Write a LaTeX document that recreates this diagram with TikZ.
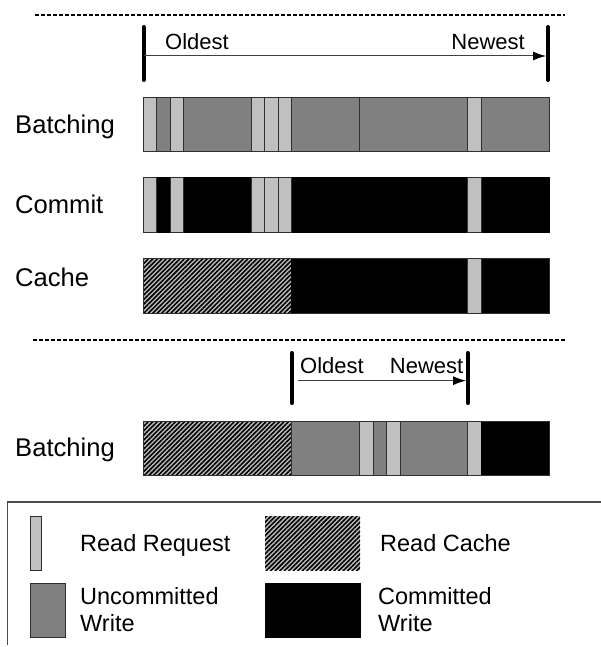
\documentclass[tikz,border=0pt]{standalone}
\usepackage{fontspec}
\setmainfont{Liberation Sans}
\usetikzlibrary{patterns.meta,arrows.meta}
\definecolor{lightg}{HTML}{C0C0C0}
\definecolor{darkg}{HTML}{808080}
\definecolor{edge}{HTML}{303030}
\begin{document}
\begin{tikzpicture}[x=1pt,y=-1pt,
  rr/.style={fill=lightg,draw=edge,line width=0.8pt},
  uw/.style={fill=darkg,draw=edge,line width=0.8pt},
  cw/.style={fill=black,draw=black,line width=0.8pt},
  rc/.style={preaction={fill=gray!50},pattern={Lines[angle=45,distance=3.2pt,line width=1.6pt]},pattern color=black},
  rowlab/.style={font=\fontsize{25.6}{30}\selectfont,anchor=base west,inner sep=0pt},
  timelab/.style={font=\fontsize{22}{26}\selectfont,inner sep=0pt},
  leglab/.style={font=\fontsize{23.5}{28}\selectfont,anchor=base west,inner sep=0pt},
  sepline/.style={dash pattern=on 4pt off 2pt,line width=1.8pt},
  tickbar/.style={line width=4pt,line cap=round},
  timearrow/.style={-{Latex[length=13pt,width=9pt,fill=black,color=black]},line width=1pt,draw=black!75},
  legframe/.style={draw=black!70,line width=1.4pt}
]
\useasboundingbox (0,0) rectangle (601,647);

% separators
\coordinate (s1a) at (35,15);
\coordinate (s1b) at (565,15);
\draw[sepline] (s1a) -- (s1b);
\coordinate (s2a) at (33,340);
\coordinate (s2b) at (565,340);
\draw[sepline] (s2a) -- (s2b);

% top time axis
\coordinate (t1a) at (143.5,27);
\coordinate (t1b) at (143.5,80);
\coordinate (t2a) at (548,27);
\coordinate (t2b) at (548,80);
\draw[tickbar] (t1a) -- (t1b);
\draw[tickbar] (t2a) -- (t2b);
\coordinate (a1s) at (143.5,56);
\coordinate (a1e) at (546,56);
\draw[timearrow] (a1s) -- (a1e);
\node[timelab,anchor=base west] (old1) at (165,49.3) {Oldest};
\node[timelab,anchor=base east] (new1) at (525,49.3) {Newest};

% labels
\node[rowlab] (lb1) at (15,133.3) {Batching};
\node[rowlab] (lb2) at (15,213.3) {Commit};
\node[rowlab] (lb3) at (15,286) {Cache};
\node[rowlab] (lb4) at (15,456.7) {Batching};

% Batching bar
\foreach \a/\b in {1/2,3/8,11/16,16/24,25/30}
  \draw[uw] ({143+\a*13.533},97) rectangle ({143+\b*13.533},151);
\foreach \a/\b in {0/1,2/3,8/9,9/10,10/11,24/25}
  \draw[rr] ({143+\a*13.533},97) rectangle ({143+\b*13.533},151);

% Commit bar
\foreach \a/\b in {1/2,3/8,11/24,25/30}
  \draw[cw] ({143+\a*13.533},177) rectangle ({143+\b*13.533},232);
\foreach \a/\b in {0/1,2/3,8/9,9/10,10/11,24/25}
  \draw[rr] ({143+\a*13.533},177) rectangle ({143+\b*13.533},232);

% Cache bar
\fill[rc] (143,258) rectangle ({143+11*13.533},313);
\draw[cw] ({143+11*13.533},258) rectangle ({143+30*13.533},313);
\draw[rr] ({143+24*13.533},258) rectangle ({143+25*13.533},313);
\draw[edge,line width=0.8pt] (143,258) rectangle ({143+30*13.533},313);

% bottom time axis
\coordinate (t3a) at (291.7,353);
\coordinate (t3b) at (291.7,403);
\coordinate (t4a) at (467.7,353);
\coordinate (t4b) at (467.7,403);
\draw[tickbar] (t3a) -- (t3b);
\draw[tickbar] (t4a) -- (t4b);
\coordinate (a2s) at (298,380.7);
\coordinate (a2e) at (466,380.7);
\draw[timearrow] (a2s) -- (a2e);
\node[timelab,anchor=base west] (old2) at (300,373.3) {Oldest};
\node[timelab,anchor=base east] (new2) at (463.5,373.3) {Newest};

% bottom Batching bar
\fill[rc] (143,421) rectangle ({143+11*13.533},475);
\foreach \a/\b in {11/16,17/18,19/24}
  \draw[uw] ({143+\a*13.533},421) rectangle ({143+\b*13.533},475);
\foreach \a/\b in {16/17,18/19,24/25}
  \draw[rr] ({143+\a*13.533},421) rectangle ({143+\b*13.533},475);
\draw[cw] ({143+25*13.533},421) rectangle ({143+30*13.533},475);
\draw[edge,line width=0.8pt] (143,421) rectangle ({143+30*13.533},475);

% legend
\coordinate (lf1) at (601,502);
\coordinate (lf2) at (7.5,502);
\coordinate (lf3) at (7.5,645);
\draw[legframe] (lf1) -- (lf2) -- (lf3);
\draw[rr] (30,516) rectangle (41.7,570);
\fill[rc] (265,516) rectangle (360,570);
\draw[uw] (30,583.3) rectangle (65.3,637);
\draw[cw] (265,583.3) rectangle (360,637);
\node[leglab] (lg1) at (80,551.7) {Read Request};
\node[leglab] (lg2) at (380,551.7) {Read Cache};
\node[leglab] (lg3) at (80,604) {Uncommitted};
\node[leglab] (lg4) at (80,631.7) {Write};
\node[leglab] (lg5) at (378,604) {Committed};
\node[leglab] (lg6) at (378,631.7) {Write};
\end{tikzpicture}
\end{document}
